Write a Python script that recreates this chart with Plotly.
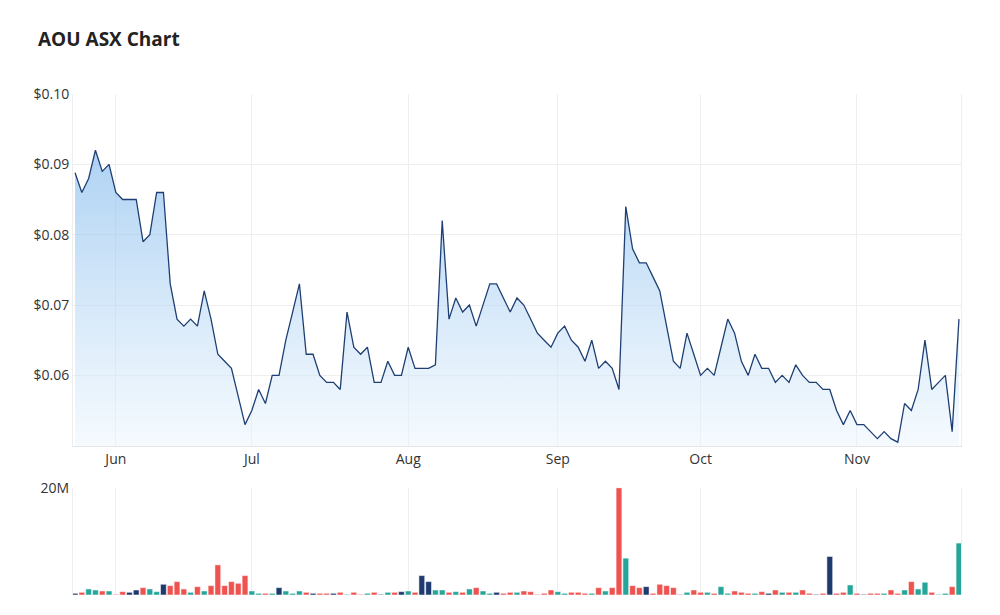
import plotly.graph_objects as go
import pandas as pd

prices = [0.0888,0.086,0.088,0.092,0.089,0.090,0.086,0.085,0.085,0.085,0.079,0.080,0.086,0.086,0.073,0.068,
0.067,0.068,0.067,0.072,0.068,0.063,0.062,0.061,0.057,0.053,0.055,0.058,0.056,0.060,0.060,0.065,0.069,0.073,
0.063,0.063,0.060,0.059,0.059,0.058,0.069,0.064,0.063,0.064,0.059,0.059,0.062,0.060,0.060,0.064,0.061,0.061,
0.061,0.0615,0.082,0.068,0.071,0.069,0.070,0.067,0.070,0.073,0.073,0.071,0.069,0.071,0.070,0.068,0.066,0.065,
0.064,0.066,0.067,0.065,0.064,0.062,0.065,0.061,0.062,0.061,0.058,0.084,0.078,0.076,0.076,0.074,0.072,0.067,
0.062,0.061,0.066,0.063,0.060,0.061,0.060,0.064,0.068,0.066,0.062,0.060,0.063,0.061,0.061,0.059,0.060,0.059,
0.0615,0.060,0.059,0.059,0.058,0.058,0.055,0.053,0.055,0.053,0.053,0.052,0.051,0.052,0.051,0.0505,0.056,0.055,
0.058,0.065,0.058,0.059,0.060,0.052,0.068]

vol_px = [12,5,8,18,15,12,12,2,10,8,15,22,18,10,32,28,40,18,8,25,12,28,90,28,40,35,58,12,5,5,5,22,12,5,12,8,5,5,
5,5,8,2,8,2,5,8,2,8,8,10,12,8,58,40,15,15,8,10,8,18,22,12,5,8,
5,8,8,12,10,2,5,15,10,5,8,8,5,5,22,12,22,320,110,28,22,25,5,32,28,22,2,8,15,8,8,5,25,5,12,8,5,5,10,5,15,8,8,8,
15,5,2,5,115,5,8,30,5,2,5,5,5,15,5,15,40,18,38,8,2,5,25,155]
volumes = [v * 20e6 / 320 for v in vol_px]

n = min(len(prices), len(volumes))
prices = prices[-n:]; volumes = volumes[-n:]
dates = pd.bdate_range("2024-05-24", periods=n)
idx = list(range(n))

month_labels = ["Jun", "Jul", "Aug", "Sep", "Oct", "Nov"]
month_pos = []
for m in range(6, 12):
    month_pos.append(next(i for i, d in enumerate(dates) if d.month == m))

colors = []
for i, p in enumerate(prices):
    prev = prices[i-1] if i > 0 else p
    colors.append("#26a69a" if p > prev else ("#ef5350" if p < prev else "#1e3a6e"))

fig = go.Figure()
fig.add_trace(go.Scatter(x=idx, y=prices, mode="lines", line=dict(color="#1e3f73", width=1.3),
    fill="tozeroy",
    fillgradient=dict(type="vertical", start=0.05, stop=0.092,
        colorscale=[[0, "rgba(235,245,253,0.5)"], [1, "rgba(120,180,235,0.6)"]]),
    xaxis="x", yaxis="y", customdata=[d.strftime("%d %b %Y") for d in dates],
    hovertemplate="%{customdata}: $%{y}<extra></extra>"))
fig.add_trace(go.Bar(x=idx, y=volumes, marker=dict(color=colors, line=dict(width=0.5, color="white")),
    xaxis="x2", yaxis="y2"))

xr = [-0.3, n - 0.7]
fig.update_layout(
    width=1000, height=615, showlegend=False, bargap=0.15,
    paper_bgcolor="white", plot_bgcolor="white",
    margin=dict(l=65, r=47, t=86, b=28),
    font=dict(family="Open Sans", color="#333", size=14),
    title=dict(text="<b>AOU ASX Chart</b>", x=0.03, y=0.96, xanchor="left", font=dict(size=19, color="#222")),
    xaxis=dict(domain=[0,1], anchor="y", range=xr, tickvals=month_pos, ticktext=month_labels, showgrid=True,
               gridcolor="#eeeeee", showline=True, linecolor="#e6e6e6", zeroline=False),
    yaxis=dict(domain=[0.298,1], range=[0.05,0.10], tickvals=[0.06,0.07,0.08,0.09,0.10],
               ticktext=["$0.06","$0.07","$0.08","$0.09","$0.10"], gridcolor="#eeeeee", zeroline=False,
               showline=True, linecolor="#eeeeee", mirror=True),
    xaxis2=dict(domain=[0,1], anchor="y2", range=xr, tickvals=month_pos, showticklabels=False, showgrid=True,
                gridcolor="#eeeeee", zeroline=False),
    yaxis2=dict(domain=[0,0.214], range=[0,20e6], tickvals=[20e6], ticktext=["20M"], gridcolor="#eeeeee",
                zeroline=False, showline=True, linecolor="#eeeeee", mirror=True),
)
fig.write_html("out.html")
